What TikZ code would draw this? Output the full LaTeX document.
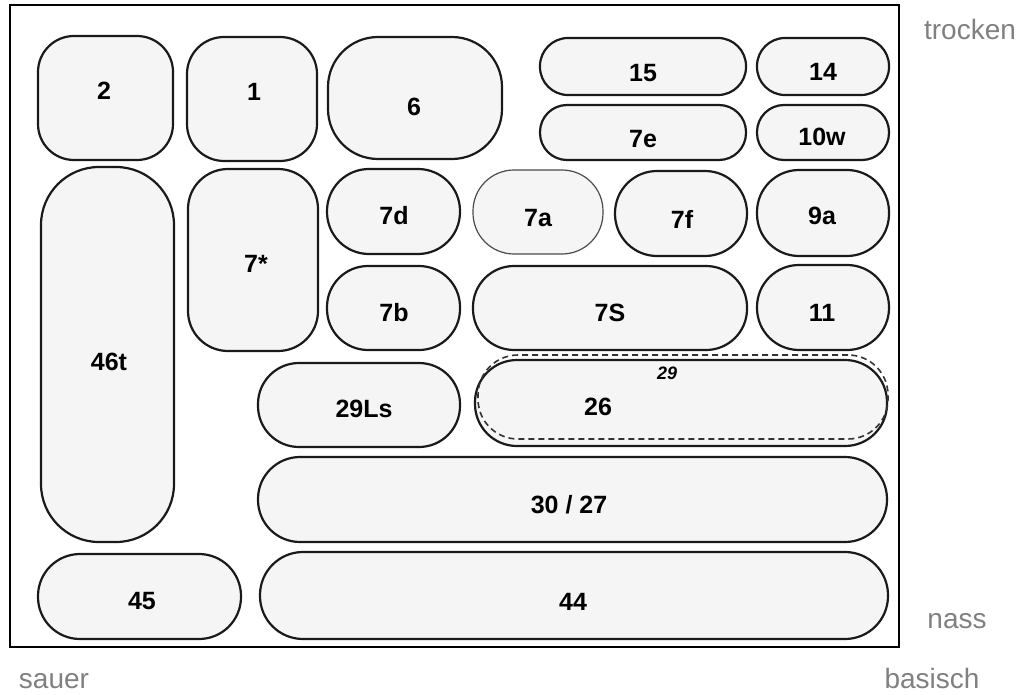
\documentclass[tikz,border=0pt]{standalone}
\usepackage{fontspec}
\setmainfont{Liberation Sans}
\definecolor{boxfill}{HTML}{F5F5F5}
\definecolor{boxline}{HTML}{1A1A1A}
\definecolor{axisgray}{HTML}{808080}
\tikzset{
  bx/.style={draw=boxline, line width=2.2pt, fill=boxfill, inner sep=0pt},
  thinbx/.style={draw=black!70, line width=1.2pt, fill=boxfill, inner sep=0pt},
  dashbx/.style={draw=black!80, line width=1.6pt, dash pattern=on 6pt off 4pt, inner sep=0pt},
  lbl/.style={font=\fontsize{25}{28}\selectfont\bfseries, inner sep=0pt},
  sublbl/.style={font=\fontsize{18}{20}\selectfont\bfseries\itshape, inner sep=0pt},
  axis/.style={font=\fontsize{28}{31}\selectfont, text=axisgray, inner sep=0pt, anchor=base},
}
% name, x1, y1, x2, y2, radius, style
\newcommand{\rbox}[7]{%
  \node[#7, rounded corners=#6pt, minimum width={(#4-#2)*1pt}, minimum height={(#5-#3)*1pt}]
    (#1) at ({(#2+#4)/2},{(#3+#5)/2}) {};}
\begin{document}
\begin{tikzpicture}[x=1pt,y=-1pt]
\useasboundingbox (0,0) rectangle (1032,695);
\node[draw=black, line width=2pt, inner sep=0pt, minimum width=889pt, minimum height=642pt] (frame) at (454.5,326) {};

\rbox{b2}{38}{36}{173}{160}{36}{bx}
\rbox{b1}{187}{37}{317}{161}{37}{bx}
\rbox{b6}{328}{37}{502}{159}{50}{bx}
\rbox{b15}{540}{38}{746}{95}{28}{bx}
\rbox{b14}{757}{38}{889}{95}{28}{bx}
\rbox{b7e}{540}{105}{746}{160}{27}{bx}
\rbox{b10w}{757}{105}{889}{160}{27}{bx}
\rbox{b46t}{41}{167}{174}{542}{58}{bx}
\rbox{b7s}{188}{169}{318}{351}{40}{bx}
\rbox{b7d}{327}{169}{460}{254}{42}{bx}
\rbox{b7a}{473}{170}{603}{254}{41}{thinbx}
\rbox{b7f}{615}{171}{747}{256}{42}{bx}
\rbox{b9a}{757}{170}{889}{256}{42}{bx}
\rbox{b7b}{327}{266}{460}{350}{41}{bx}
\rbox{b7S}{473}{266}{747}{350}{41}{bx}
\rbox{b11}{757}{265}{889}{350}{42}{bx}
\rbox{b29Ls}{258}{363}{460}{447}{41}{bx}
\rbox{b26}{475}{360}{887}{446}{42}{bx}
\rbox{b29}{478}{355}{888}{439}{40}{dashbx}
\rbox{b3027}{258}{457}{887}{542}{42}{bx}
\rbox{b45}{38}{554}{241}{639}{42}{bx}
\rbox{b44}{260}{552}{888}{639}{43}{bx}

\node[lbl] (t2) at (104,91) {2};
\node[lbl] (t1) at (254,92) {1};
\node[lbl] (t6) at (414,107) {6};
\node[lbl] (t15) at (643,73) {15};
\node[lbl] (t14) at (823,72) {14};
\node[lbl] (t7e) at (643,139) {7e};
\node[lbl] (t10w) at (822,137) {10w};
\node[lbl] (t46t) at (109,362) {46t};
\node[lbl] (t7s) at (256,264) {7*};
\node[lbl] (t7d) at (394,216) {7d};
\node[lbl] (t7a) at (538,218) {7a};
\node[lbl] (t7f) at (682,219) {7f};
\node[lbl] (t9a) at (822,216) {9a};
\node[lbl] (t7b) at (394,313) {7b};
\node[lbl] (t7S) at (610,313) {7S};
\node[lbl] (t11) at (822,313) {11};
\node[lbl] (t29Ls) at (364,409) {29Ls};
\node[lbl] (t26) at (598,407) {26};
\node[sublbl] (t29) at (667,373) {29};
\node[lbl] (t3027) at (569,505) {30 / 27};
\node[lbl] (t45) at (142,601) {45};
\node[lbl] (t44) at (573,602) {44};

\node[axis] (trocken) at (970,40) {trocken};
\node[axis] (nass) at (957,628) {nass};
\node[axis] (sauer) at (54,688) {sauer};
\node[axis] (basisch) at (932,688) {basisch};
\end{tikzpicture}
\end{document}
